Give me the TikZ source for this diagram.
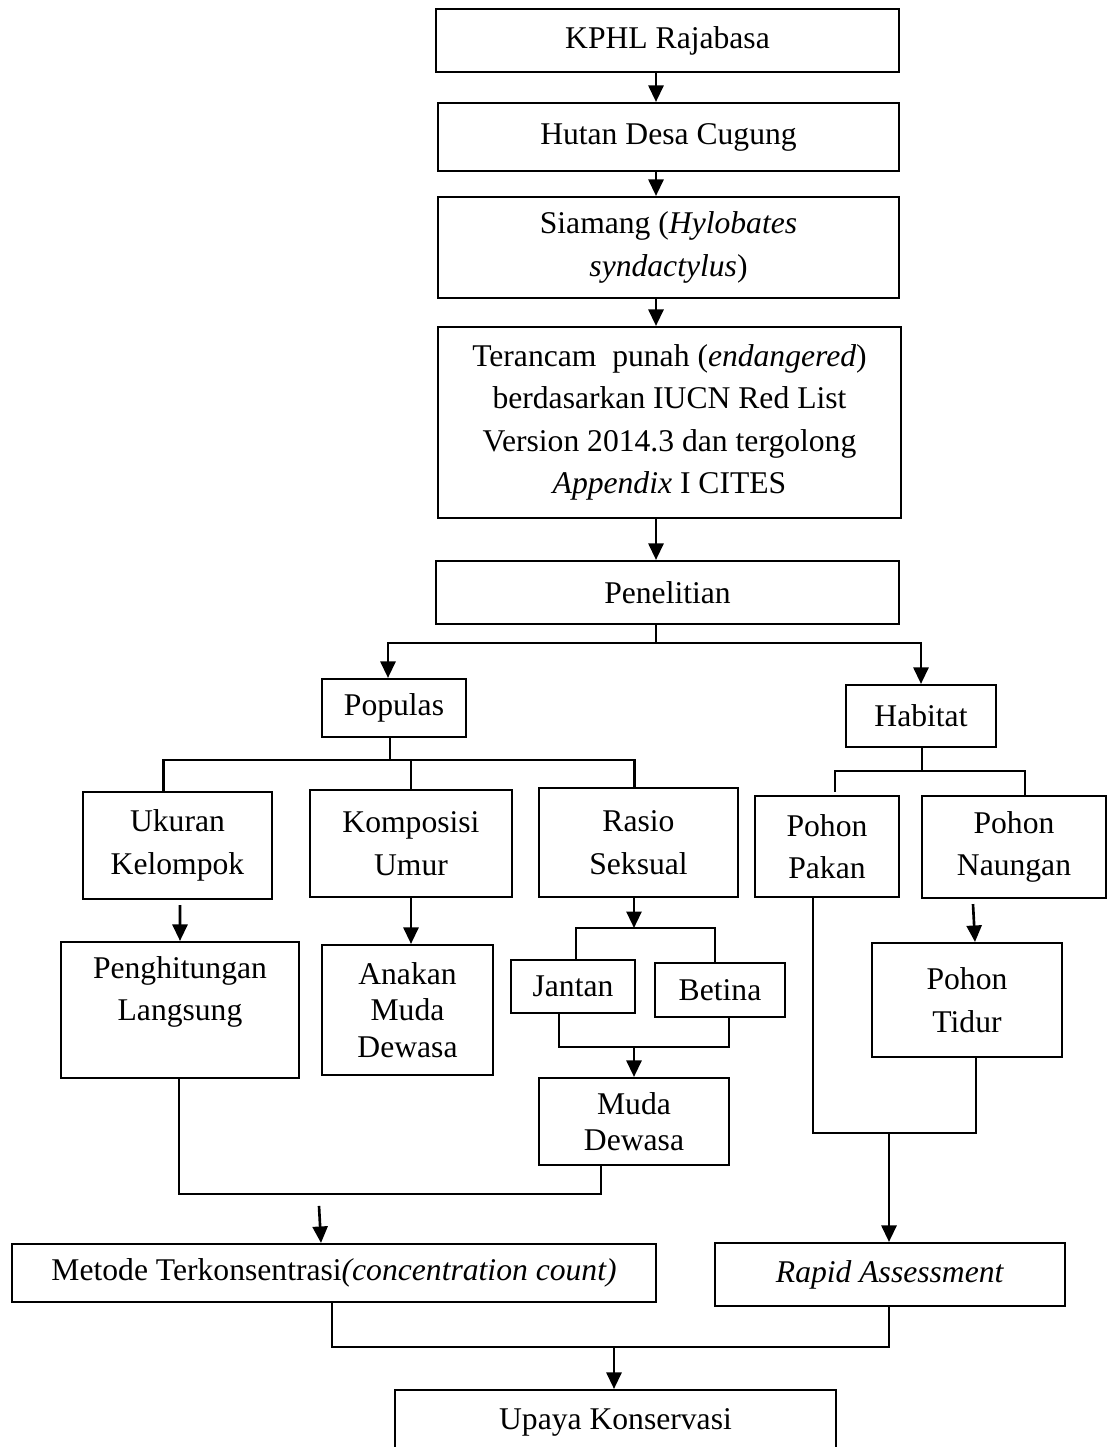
\documentclass[tikz,border=0pt]{standalone}
\usepackage{fontspec}
\setmainfont{Liberation Serif}
\usepackage{tikz}
\usetikzlibrary{arrows.meta,calc}
\tikzset{
  flow/.style={draw, line width=1.2pt, align=center, inner sep=0pt,
               font=\fontsize{18}{24.2}\selectfont},
  flowtight/.style={flow, font=\fontsize{18}{20.8}\selectfont},
  flowline/.style={line width=1.2pt},
  flowarrow/.style={-{Triangle[length=3.3mm, width=3mm]}, line width=1.5pt}
}

\begin{document}
\begin{tikzpicture}[x=0.02cm, y=-0.02cm]
\useasboundingbox (0,0) rectangle (1109,1447);
\clip (0,0) rectangle (1109,1447);
\coordinate (spine) at (656,0);

% main column
\node[flow, minimum width=9.26cm, minimum height=1.26cm] (kphl) at (667.5,40.5) {KPHL Rajabasa};
\node[flow, minimum width=9.22cm, minimum height=1.36cm] (hutan) at (668.5,137) {Hutan Desa Cugung};
\node[flow, minimum width=9.22cm, minimum height=2.02cm] (siamang) at (668.5,247.5) {Siamang (\textit{Hylobates}\\\textit{syndactylus})};
\node[flow, minimum width=9.26cm, minimum height=3.82cm] (terancam) at (669.5,422.5) {Terancam\ \ punah (\textit{endangered})\\berdasarkan IUCN Red List\\Version 2014.3 dan tergolong\\\textit{Appendix} I CITES};
\node[flow, minimum width=9.26cm, minimum height=1.26cm] (penelitian) at (667.5,592.5) {Penelitian};

% branches
\node[flow, minimum width=2.88cm, minimum height=1.16cm] (populas) at (394,708) {Populas};
\node[flow, minimum width=3.0cm, minimum height=1.24cm] (habitat) at (921,716) {Habitat};
\node[flow, minimum width=3.78cm, minimum height=2.14cm] (ukuran) at (177.5,845.5) {Ukuran\\Kelompok};
\node[flow, minimum width=4.04cm, minimum height=2.14cm] (komposisi) at (411,843.5) {Komposisi\\Umur};
\node[flow, minimum width=3.98cm, minimum height=2.18cm] (rasio) at (638.5,842.5) {Rasio\\Seksual};
\node[flow, minimum width=2.88cm, minimum height=2.02cm] (pakan) at (827,846.5) {Pohon\\Pakan};
\node[flow, minimum width=3.68cm, minimum height=2.04cm] (naungan) at (1014,847) {Pohon\\Naungan};
\node[flow, minimum width=4.76cm, minimum height=2.72cm] (penghitungan) at (180,1010) {Penghitungan\\Langsung\\\mbox{}};
\node[flowtight, minimum width=3.42cm, minimum height=2.6cm] (anakan) at (407.5,1010) {Anakan\\Muda\\Dewasa};
\node[flow, minimum width=2.48cm, minimum height=1.06cm] (jantan) at (573,986.5) {Jantan};
\node[flow, minimum width=2.6cm, minimum height=1.08cm] (betina) at (720,990) {Betina};
\node[flow, minimum width=3.8cm, minimum height=2.28cm] (tidur) at (967,1000) {Pohon\\Tidur};
\node[flowtight, minimum width=3.8cm, minimum height=1.74cm] (muda) at (634,1121.5) {Muda\\Dewasa};

% methods
\node[flow, minimum width=12.88cm, minimum height=1.16cm] (metode) at (334,1273) {Metode Terkonsentrasi\textit{(concentration count)}};
\node[flow, minimum width=7.0cm, minimum height=1.26cm] (rapid) at (890,1274.5) {\textit{Rapid Assessment}};
\node[flow, minimum width=8.82cm, minimum height=1.3cm] (upaya) at (615.5,1422.5) {Upaya Konservasi};

% top chain
\draw[flowarrow] (kphl.south -| spine) -- (hutan.north -| spine);
\draw[flowarrow] (hutan.south -| spine) -- (siamang.north -| spine);
\draw[flowarrow] (siamang.south -| spine) -- (terancam.north -| spine);
\draw[flowarrow] (terancam.south -| spine) -- (penelitian.north -| spine);

% split into populas and habitat
\coordinate (penbus) at (656,643);
\draw[flowline] (penelitian.south -| penbus) -- (penbus);
\draw[flowarrow] (penbus) -| ($(populas.north)+(-6,0)$);
\draw[flowarrow] (penbus) -| (habitat.north);

\coordinate (popbus) at (390,760);
\draw[flowline] (populas.south -| popbus) -- (popbus);
\draw[flowline] ($(ukuran.north)+(-14,0)$) |- (popbus) -| ($(rasio.north)+(-4,0)$);
\draw[flowline] (komposisi.north) -- (komposisi.north |- popbus);

\coordinate (habbus) at (922,771);
\draw[flowline] (habitat.south -| habbus) -- (habbus);
\draw[flowline] ($(pakan.north)+(8,-3)$) |- (habbus) -| ($(naungan.north)+(11,0)$);

% second level
\draw[flowarrow] ($(ukuran.south)+(2.5,5)$) -- (penghitungan.north);
\draw[flowarrow] (komposisi.south) -- (komposisi.south |- anakan.north);
\coordinate (rasbus) at (634,928);
\draw[flowarrow] (rasio.south -| rasbus) -- (rasbus);
\draw[flowline] ($(jantan.north)+(3,0)$) |- (rasbus) -| ($(betina.north)+(-5,0)$);
\draw[flowarrow] ($(naungan.south)+(-41,5)$) -- ($(tidur.north)+(8,0)$);

\coordinate (jbbus) at (634,1047);
\draw[flowline] ($(jantan.south)+(-14,0)$) |- (jbbus) -| ($(betina.south)+(9,0)$);
\draw[flowarrow] (jbbus) -- (muda.north -| jbbus);

% towards the methods
\draw[flowline] ($(penghitungan.south)+(-1,0)$) |- ($(muda.south)+(-33,28)$) -- ($(muda.south)+(-33,0)$);
\draw[flowarrow] ($(metode.north)+(-15,-37)$) -- ($(metode.north)+(-13,0)$);

\coordinate (ptbus) at (889,1133);
\draw[flowline] ($(pakan.south)+(-14,0)$) |- (ptbus) -| ($(tidur.south)+(9,0)$);
\draw[flowarrow] (ptbus) -- (rapid.north -| ptbus);

\coordinate (upbus) at (614,1347);
\draw[flowline] ($(metode.south)+(-2,0)$) |- (upbus) -| ($(rapid.south)+(-1,0)$);
\draw[flowarrow] (upbus) -- (upaya.north -| upbus);
\end{tikzpicture}
\end{document}
